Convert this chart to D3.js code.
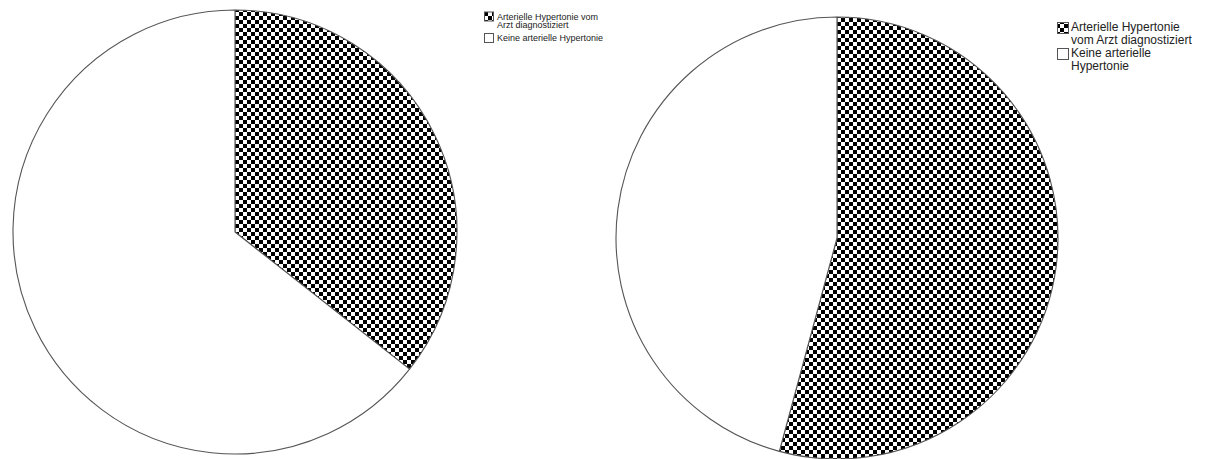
<!DOCTYPE html>
<html>
<head>
<meta charset="utf-8">
<script src="https://cdn.jsdelivr.net/npm/d3@7"></script>
<style>
  html, body { margin: 0; padding: 0; background: #fff; }
  svg { display: block; }
</style>
</head>
<body>
<svg id="chart" width="1208" height="459"></svg>
<script>
// Categories and shares (percent) for the two pies
const categories = ["Arterielle Hypertonie vom Arzt diagnostiziert", "Keine arterielle Hypertonie"];
const leftValues = [35.6, 64.4];
const rightValues = [54.2, 45.8];

// Legend text, already broken into lines as it is set
const leftLegendLines = [["Arterielle Hypertonie vom", "Arzt diagnostiziert"], ["Keine arterielle Hypertonie"]];
const rightLegendLines = [["Arterielle Hypertonie", "vom Arzt diagnostiziert"], ["Keine arterielle", "Hypertonie"]];

const svg = d3.select("#chart");

// Checkerboard fill for the first category
const defs = svg.append("defs");
const pat = defs.append("pattern")
  .attr("id", "checker")
  .attr("patternUnits", "userSpaceOnUse")
  .attr("width", 8).attr("height", 8);
pat.append("rect").attr("width", 8).attr("height", 8).attr("fill", "#fff");
pat.append("rect").attr("x", 0).attr("y", 0).attr("width", 4).attr("height", 4).attr("fill", "#000");
pat.append("rect").attr("x", 4).attr("y", 4).attr("width", 4).attr("height", 4).attr("fill", "#000");

const fillScale = d3.scaleOrdinal().domain(categories).range(["url(#checker)", "#fff"]);

const pie = d3.pie().sort(null).value(d => d.value);

function drawPie(values, cx, cy, r) {
  const data = categories.map((c, i) => ({ cat: c, value: values[i] }));
  const arc = d3.arc().innerRadius(0).outerRadius(r);
  const g = svg.append("g").attr("transform", `translate(${cx},${cy})`);
  g.selectAll("path")
    .data(pie(data))
    .join("path")
    .attr("d", arc)
    .attr("fill", d => fillScale(d.data.cat))
    .attr("stroke", "#555")
    .attr("stroke-width", 1.1)
    .attr("stroke-linejoin", "round");
}

function drawLegend(lines, opts) {
  const g = svg.append("g")
    .attr("font-family", "'Liberation Sans', Arial, sans-serif")
    .attr("font-size", opts.fontSize)
    .attr("fill", "#222");
  lines.forEach((itemLines, i) => {
    const base = opts.itemBaselines[i];
    g.append("rect")
      .attr("x", opts.boxX + 0.5)
      .attr("y", base - opts.boxOffset + 0.5)
      .attr("width", opts.boxSize)
      .attr("height", opts.boxSize)
      .attr("fill", fillScale(categories[i]))
      .attr("stroke", "#555")
      .attr("stroke-width", 1);
    itemLines.forEach((t, j) => {
      g.append("text")
        .attr("x", opts.textX)
        .attr("y", base + j * opts.lineHeight)
        .text(t);
    });
  });
}

drawPie(leftValues, 235, 232, 222);
drawPie(rightValues, 837, 238, 221);

drawLegend(leftLegendLines, {
  fontSize: 9, boxX: 484, boxSize: 9, boxOffset: 8,
  textX: 497, itemBaselines: [19.5, 41], lineHeight: 8
});
drawLegend(rightLegendLines, {
  fontSize: 12, boxX: 1057, boxSize: 11, boxOffset: 9,
  textX: 1071, itemBaselines: [31, 57], lineHeight: 13
});
</script>
</body>
</html>
